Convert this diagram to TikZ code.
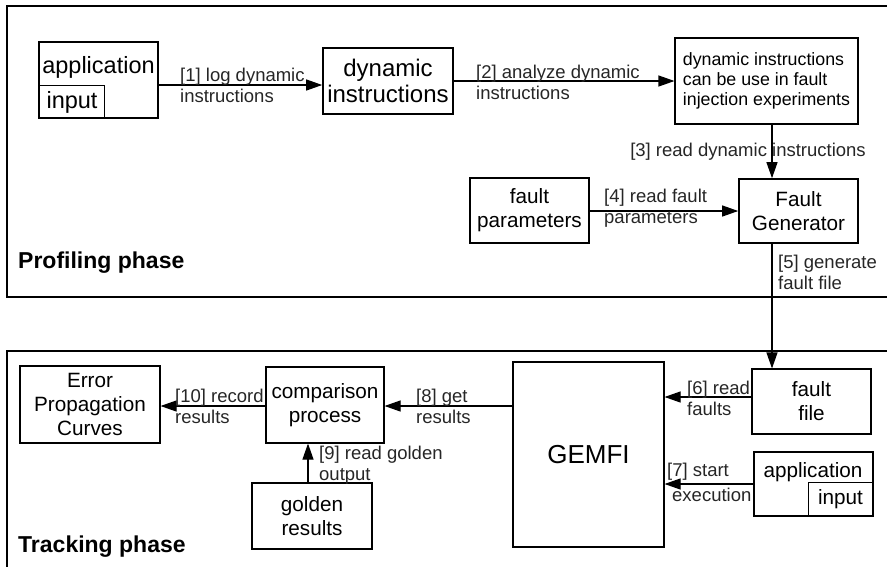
\documentclass[tikz,border=0pt]{standalone}
\usepackage{fontspec}
\setmainfont{Liberation Sans}
\usepackage{tikz}
\usetikzlibrary{arrows.meta}
\tikzstyle{box} = [draw, line width=1.1pt, inner sep=0pt, align=center, minimum width=119pt, minimum height=65pt, font=\fontsize{20.7}{24}\selectfont]
\tikzstyle{thickbox} = [box, line width=1.6pt]
\tikzstyle{flow} = [-{Triangle[length=16pt,width=11pt]}, line width=1.1pt]
\tikzstyle{lbl} = [anchor=west, align=left, inner sep=0pt, text=black!85, font=\fontsize{18.5}{21}\selectfont]
\tikzstyle{phase} = [anchor=west, inner sep=0pt, font=\fontsize{23}{27}\selectfont\bfseries]

\begin{document}
\begin{tikzpicture}[x=1pt,y=-1pt]
	\clip (0,0) rectangle (887,566);
	\draw[line width=1.4pt] (7,6) rectangle (900,297);
	\draw[line width=1.4pt] (7,351) rectangle (900,600);
	\node[phase] (prof) at (18,263) {Profiling phase};
	\node[phase] (track) at (18,547) {Tracking phase};
	\node[thickbox, minimum height=76pt] (app) at (98.5,80) {};
	\node[box, anchor=north west, minimum width=65pt, minimum height=33pt, font=\fontsize{23.5}{27}\selectfont] (appin) at (39,85) {input};
	\node[font=\fontsize{23.5}{27}\selectfont] (apptxt) at (98.5,67) {application};
	\node[thickbox, minimum width=130pt, minimum height=66pt, font=\fontsize{24}{26}\selectfont] (dyn) at (388,81) {dynamic\\instructions};
	\node[box, minimum width=183pt, minimum height=86pt, align=left, font=\fontsize{17.8}{20}\selectfont] (use) at (766.5,81) {dynamic instructions\\can be use in fault\\injection experiments};
	\node[thickbox, minimum height=64pt] (fgen) at (798.5,211) {Fault\\Generator};
	\node[box] (fpar) at (529.5,210.5) {fault\\parameters};
	\node[box] (ffile) at (811.5,401.5) {fault\\file};
	\node[thickbox, minimum height=64pt] (app2) at (813.5,484) {};
	\node[box, anchor=south east, minimum width=64pt, minimum height=33pt] (app2in) at (873,516) {input};
	\node[font=\fontsize{20.7}{24}\selectfont] (app2txt) at (813,472) {application};
	\node[box, minimum width=151pt, minimum height=185pt, font=\fontsize{26}{30}\selectfont] (gemfi) at (588.5,454.5) {GEMFI};
	\node[box, minimum width=118pt, minimum height=76pt] (comp) at (325,405) {comparison\\process};
	\node[box, minimum width=140pt, minimum height=77pt] (epc) at (90,404.5) {Error\\Propagation\\Curves};
	\node[thickbox, minimum width=120pt, minimum height=66pt] (gold) at (312,516) {golden\\results};
	\draw[flow] (app.east |- 0,85) -- (dyn.west |- 0,85);
	\node[lbl] (l1) at (180,85.5) {[1] log dynamic\\instructions};
	\draw[flow] (dyn.east) -- (use.west);
	\node[lbl] (l2) at (476,82) {[2] analyze dynamic\\instructions};
	\draw[flow] (use.south -| 772,0) -- (fgen.north -| 772,0);
	\node[lbl, anchor=center] (l3) at (748,152) {[3] read dynamic instructions};
	\draw[flow] (fpar.east |- 0,211) -- (fgen.west |- 0,211);
	\node[lbl] (l4) at (604,208.5) {[4] read fault\\parameters};
	\draw[flow] (fgen.south -| 772,0) -- (ffile.north -| 772,0);
	\node[lbl] (l5) at (778,272.5) {[5] generate\\fault file};
	\draw[flow] (ffile.west |- 0,397) -- (gemfi.east |- 0,397);
	\node[lbl] (l6) at (687,398) {[6] read\\faults};
	\draw[flow] (app2.west |- 0,484) -- (gemfi.east |- 0,484);
	\node[lbl] (l7) at (667,482.5) {[7] start\\[4pt]\hspace*{5pt}execution};
	\draw[flow] (gemfi.west |- 0,406) -- (comp.east |- 0,406);
	\node[lbl] (l8) at (416,406.5) {[8] get\\results};
	\draw[flow] (comp.west |- 0,406) -- (epc.east |- 0,406);
	\node[lbl] (l10) at (175,406) {[10] record\\results};
	\draw[flow] (gold.north -| 308,0) -- (comp.south -| 308,0);
	\node[lbl] (l9) at (319,465.5) {[9] read golden\\output};
\end{tikzpicture}
\end{document}
